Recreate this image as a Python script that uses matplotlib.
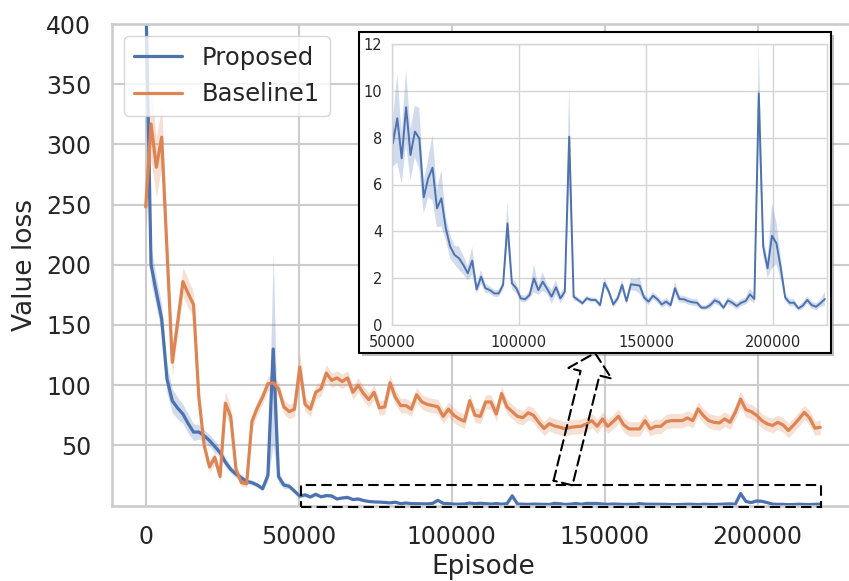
import numpy as np
import matplotlib
matplotlib.use("Agg")
import matplotlib.pyplot as plt
import matplotlib.patches as mpatches
import seaborn as sns

# episodes are logged every 1736 steps
episodes = np.arange(128) * 1736

proposed = [
    430, 200, 177, 155, 105, 87, 81, 76, 68, 61, 61, 58, 54, 49, 44, 36, 30, 26, 23, 20,
    19, 17, 14, 25, 130, 24, 17, 16, 12,
    7.76, 8.83, 7.12, 9.30, 7.26, 8.26, 7.97, 5.45, 6.26, 6.72, 4.98, 5.41, 4.13, 3.35,
    2.99, 2.85, 2.56, 2.21, 2.75, 1.52, 2.06, 1.57, 1.49, 1.35, 1.35, 1.71, 4.34, 1.78,
    1.57, 1.14, 1.10, 1.28, 1.99, 1.49, 1.85, 1.54, 1.21, 1.61, 1.14, 1.42, 8.04, 1.21,
    1.07, 0.93, 1.14, 1.07, 1.07, 0.85, 1.80,
    1.42, 0.88, 1.14, 1.71, 1.02, 1.74, 1.71, 1.68, 1.17, 1.00, 1.25, 1.10, 0.88, 1.00,
    0.85, 1.57, 1.11, 1.10, 1.02, 0.97, 0.95, 0.74, 0.74, 0.85, 1.05, 0.97, 0.74, 1.05,
    0.95, 0.81, 0.95, 1.02, 1.31, 1.11, 9.89, 3.35, 2.42, 3.81, 3.49, 2.42, 1.17, 0.95,
    0.95, 0.71, 0.83, 1.07, 0.85, 0.78, 0.93, 1.11,
]
proposed_ci = [
    30, 15, 12, 12, 12, 10, 9, 8, 8, 7, 6, 5, 5, 5, 4, 4, 3, 3, 3, 2,
    2, 2, 2, 5, 80, 5, 3, 2, 2,
    1.0, 1.9, 1.1, 1.6, 1.1, 1.1, 1.3, 0.7, 0.8, 1.4, 0.8, 1.2, 0.5, 0.5,
    0.4, 0.5, 0.4, 0.3, 0.6, 0.2, 0.3, 0.2, 0.15, 0.15, 0.15, 0.2, 0.9, 0.25,
    0.2, 0.15, 0.15, 0.15, 0.6, 0.2, 0.4, 0.2, 0.3, 0.3, 0.2, 0.2, 2.2, 0.15,
    0.1, 0.1, 0.1, 0.1, 0.1, 0.1, 0.2,
    0.15, 0.15, 0.15, 0.25, 0.15, 0.25, 0.25, 0.35, 0.15, 0.15, 0.15, 0.15, 0.15, 0.15,
    0.15, 0.3, 0.15, 0.15, 0.15, 0.15, 0.15, 0.1, 0.1, 0.15, 0.15, 0.15, 0.1, 0.15,
    0.15, 0.15, 0.15, 0.15, 0.25, 0.2, 2.1, 0.4, 0.4, 1.4, 0.9, 0.5, 0.15, 0.15,
    0.15, 0.1, 0.15, 0.15, 0.15, 0.15, 0.15, 0.3,
]

baseline1 = [
    248, 317, 281, 306, 212, 119, 152, 186, 176, 167, 90, 50, 32, 40, 24, 85, 74, 30,
    19, 18, 70, 81, 90, 101, 102, 97, 82, 78, 80, 115, 84, 80,
    94, 97, 110, 104, 106, 103, 106, 94, 100, 93, 88, 94, 81, 82, 102, 90, 83, 83, 80,
    92, 86, 84, 83, 82, 74, 80, 75, 72, 70, 87, 75, 74, 86, 86, 76, 93, 82, 78, 74, 73,
    77, 75, 69, 64, 68, 66,
    65, 63.6, 65, 65.5, 65.8, 67.8, 70.5, 65.8, 71.9, 65.8, 69.7, 74.1, 66.9, 63.6, 63.6,
    63.6, 70.5, 63.6, 65.8, 65.8, 69.7, 70.5, 70.5, 70.5, 72.7, 70.5, 80.2, 74.6, 70.5,
    69.1, 68.6, 71.9,
    69.1, 77.4, 88.4, 79.6, 78, 75, 70.5, 67.8, 66.5, 69.1, 66.9, 62.3, 66.9, 71.9, 77.4,
    72.7, 64.2, 65,
]
baseline1_ci = [
    22, 30, 25, 25, 15, 12, 10, 12, 12, 10, 6, 5, 5, 5, 4, 10, 8, 4, 3, 3, 6, 6, 6, 6,
    6, 6, 6, 6, 6, 12, 6, 6,
    6, 6, 7, 6, 6, 6, 6, 6, 6, 6, 6, 6, 6, 6, 7, 6, 6, 6, 6, 6, 6, 6, 6, 6, 6, 6, 6, 6,
    6, 6, 6, 6, 6, 6, 6, 6, 6, 6, 6, 6, 6, 6, 6, 6, 6, 6,
    6, 6, 6, 6, 6, 6, 6, 6, 6, 6, 6, 6, 6, 6, 6, 6, 6, 6, 6, 6, 6, 6, 6, 6, 6, 6, 6, 6,
    6, 6, 6, 6,
    6, 6, 7, 6, 6, 6, 6, 6, 6, 6, 6, 6, 6, 6, 6, 6, 6, 6,
]

blue = "#4C72B0"
orange = "#DD8452"

sns.set_theme(style="whitegrid")
plt.rcParams["font.family"] = ["DejaVu Sans"]

W, H = 849, 581
fig = plt.figure(figsize=(W / 100, H / 100), dpi=100)

def px_box(x0, y0, x1, y1):
    # pixel box (top-left origin) -> figure fraction rect
    return [x0 / W, 1 - y1 / H, (x1 - x0) / W, (y1 - y0) / H]

p = np.array(proposed)
pc = np.array(proposed_ci)
b = np.array(baseline1)
bc = np.array(baseline1_ci)

# main axes
ax = fig.add_axes(px_box(112, 24, 854, 505.5))
ax.fill_between(episodes, p - pc, p + pc, color=blue, alpha=0.25, lw=0)
ax.fill_between(episodes, b - bc, b + bc, color=orange, alpha=0.25, lw=0)
ax.plot(episodes, p, color=blue, lw=2.3, label="Proposed")
ax.plot(episodes, b, color=orange, lw=2.3, label="Baseline1")
ax.set_xlim(-11024, 231496)
ax.set_ylim(0, 400)
ax.set_xticks([0, 50000, 100000, 150000, 200000])
ax.set_yticks(range(50, 401, 50))
ax.tick_params(axis="both", labelsize=17, length=0, colors="#262626")
ax.tick_params(axis="x", pad=14)
ax.tick_params(axis="y", pad=15)
ax.grid(True, color="#cccccc", lw=1.5)
for s in ax.spines.values():
    s.set_color("#cccccc")
    s.set_linewidth(1.9)
ax.set_xlabel("Episode", fontsize=19, color="#262626", labelpad=4)
ax.set_ylabel("Value loss", fontsize=19, color="#262626", labelpad=6)
ax.legend(loc="upper left", fontsize=17.5, frameon=True, handlelength=2.0)

# zoom region marker
zoom_box = mpatches.Rectangle((50800, -1.2), 170000, 18.2, fill=False, ec="black",
                              lw=1.5, ls=(0, (5, 2.5)), clip_on=False, zorder=5)
ax.add_patch(zoom_box)

# inset frame with shadow
sh = px_box(362, 35, 834, 356)
shadow = mpatches.Rectangle((sh[0], sh[1]), sh[2], sh[3], transform=fig.transFigure,
                            fc="#999999", ec="none", alpha=0.6, zorder=0.5)
fr = px_box(359, 32, 831, 353)
frame = mpatches.Rectangle((fr[0], fr[1]), fr[2], fr[3], transform=fig.transFigure,
                           fc="white", ec="black", lw=1.5, zorder=1)
fig.add_artist(shadow)
fig.add_artist(frame)

# inset axes
ax2 = fig.add_axes(px_box(392, 44, 827, 325))
ax2.set_zorder(2)
ax2.fill_between(episodes, p - pc, p + pc, color=blue, alpha=0.25, lw=0)
ax2.plot(episodes, p, color=blue, lw=1.4)
ax2.set_xlim(50000, 221300)
ax2.set_ylim(0, 12)
ax2.set_xticks([50000, 100000, 150000, 200000])
ax2.set_yticks(range(0, 13, 2))
ax2.tick_params(axis="both", labelsize=10.5, length=0, colors="#262626")
ax2.tick_params(axis="x", pad=7)
ax2.tick_params(axis="y", pad=7)
ax2.grid(True, color="#d5d5d5", lw=1.0)
for s in ax2.spines.values():
    s.set_color("#d5d5d5")
    s.set_linewidth(1.0)

# dashed arrow from zoom box to inset
arrow = mpatches.FancyArrowPatch(
    (563 / W, 1 - 483 / H), (595 / W, 1 - 353 / H),
    transform=fig.transFigure,
    arrowstyle=mpatches.ArrowStyle.Simple(head_length=15, head_width=32, tail_width=14),
    mutation_scale=1, fill=False, ec="black", lw=1.5, ls=(0, (5, 2.5)),
    shrinkA=0, shrinkB=0, zorder=3)
fig.add_artist(arrow)

fig.savefig("out.png", dpi=100)
